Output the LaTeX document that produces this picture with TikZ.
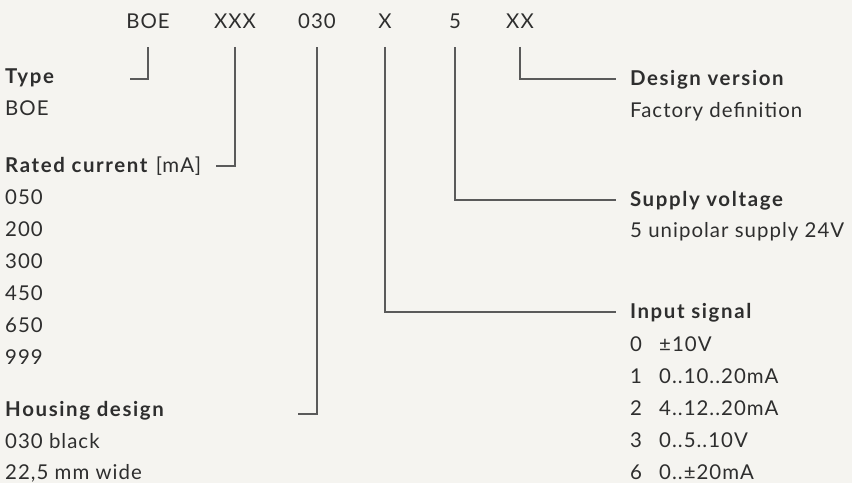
\documentclass[tikz,border=0pt]{standalone}
\usepackage{fontspec}
\setmainfont{Lato}[LetterSpace=5, BoldFeatures={LetterSpace=8}]
\usepackage{tikz}
\usetikzlibrary{positioning}
\definecolor{paper}{HTML}{F5F4F0}
\definecolor{ink}{HTML}{2E2E2E}
\definecolor{wire}{HTML}{5A5A5A}
\newcommand{\sz}{\fontsize{20.5}{24}\selectfont}
\tikzset{
  code/.style={anchor=base, inner sep=0pt, outer ysep=18bp, text=ink, font=\sz},
  head/.style={anchor=base west, inner sep=0pt, text height=14bp, text depth=0pt, text=ink, font=\sz\bfseries},
  rhead/.style={head, outer xsep=14bp},
  item/.style={anchor=base west, inner sep=0pt, text=ink, font=\sz},
  lead/.style={wire, line width=1.4bp},
}
\begin{document}
\begin{tikzpicture}[x=1bp, y=-1bp]
\fill[paper] (0,0) rectangle (852,483);
\node[code] (boe) at (148,29) {BOE};
\node[code] (xxx) at (235,29) {XXX};
\node[code] (hous) at (317,29) {030};
\node[code] (sig) at (385,29) {X};
\node[code] (volt) at (455,29) {5};
\node[code] (ver) at (520,29) {XX};
\node[head] (type) at (5,84) {Type};
\node[item] (typeboe) at (5,116) {BOE};
\node[head] (rated) at (5,173) {Rated current \textmd{[mA]}};
\foreach \c [count=\k from 0] in {050,200,300,450,650,999}
  \node[item] (cur\c) at (5,205+31.8*\k) {\c};
\node[head] (housing) at (5,416) {Housing design};
\node[item] (black) at (5,448) {030 black};
\node[item] (wide) at (5,479) {22,5 mm wide};
\node[rhead] (design) at (616,86) {Design version};
\node[item] (factory) at (630,118) {Factory definition};
\node[rhead] (supply) at (616,207) {Supply voltage};
\node[item] (unipolar) at (630,238) {5 unipolar supply 24V};
\node[rhead] (input) at (616,319) {Input signal};
\foreach \n/\v [count=\k from 0] in {0/{±10V},1/{0..10..20mA},2/{4..12..20mA},3/{0..5..10V},6/{0..±20mA}} {
  \node[item] (in\n) at (630,351+32.2*\k) {\n};
  \node[item] (inv\n) at (659,351+32.2*\k) {\v};
}
\coordinate (typeend) at (130,79);
\coordinate (ratedend) at (216,166);
\coordinate (housend) at (298,414);
\draw[lead] (boe.south) |- (typeend);
\draw[lead] (xxx.south) |- (ratedend);
\draw[lead] (hous.south) |- (housend);
\draw[lead] (sig.south) |- (input.west);
\draw[lead] (volt.south) |- (supply.west);
\draw[lead] (ver.south) |- (design.west);
\end{tikzpicture}
\end{document}
